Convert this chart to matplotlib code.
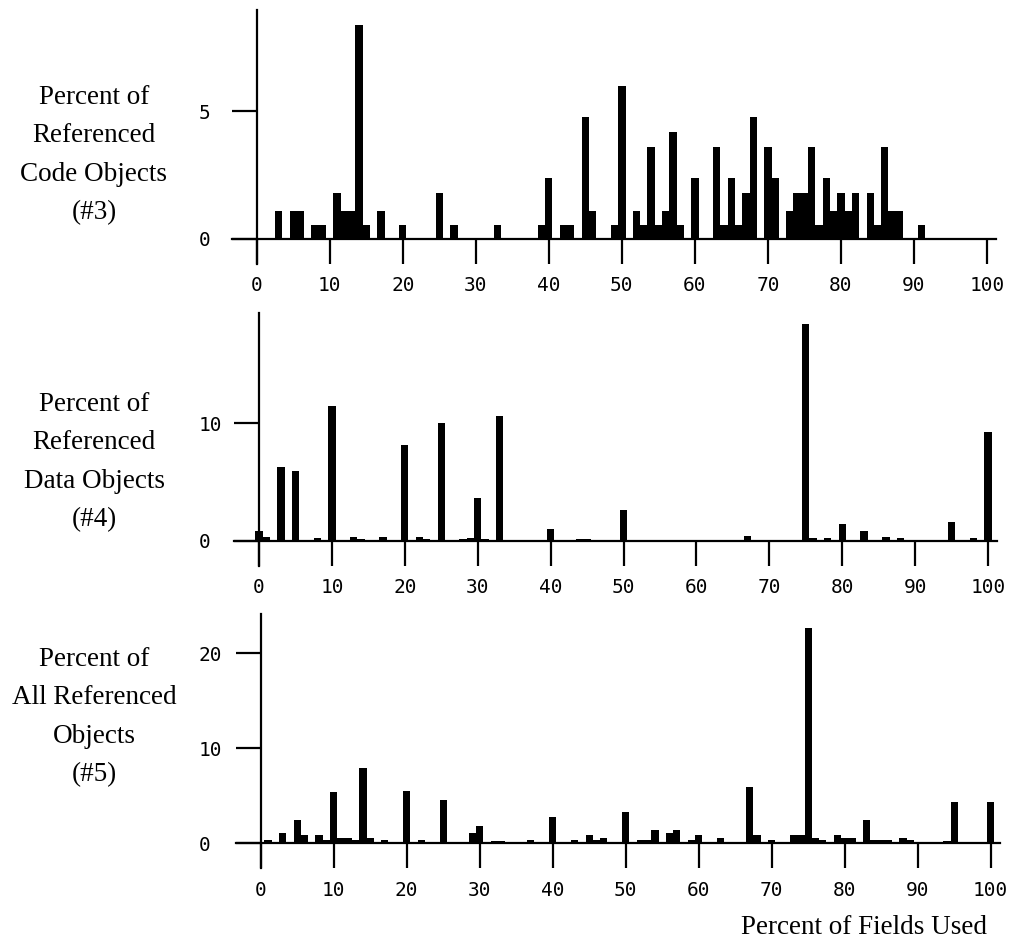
import matplotlib
matplotlib.use('Agg')
import matplotlib.pyplot as plt
import numpy as np

# %% data (percent of fields used -> percent of objects)
code_pos = [3, 5, 6, 8, 9, 11, 12, 13, 14, 15, 17, 20, 25, 27, 33, 39, 40, 42, 43, 45,
            46, 49, 50, 52, 53, 54, 55, 56, 57, 58, 60, 63, 64, 65, 66, 67, 68, 70, 71, 73,
            74, 75, 76, 77, 78, 79, 80, 81, 82, 84, 85, 86, 87, 88, 91]
code_pct = [1.1, 1.1, 1.1, 0.55, 0.55, 1.8, 1.1, 1.1, 8.4, 0.55, 1.1, 0.55, 1.8, 0.55, 0.55, 0.55, 2.4, 0.55, 0.55, 4.8,
            1.1, 0.55, 6.0, 1.1, 0.55, 3.6, 0.55, 1.1, 4.2, 0.55, 2.4, 3.6, 0.55, 2.4, 0.55, 1.8, 4.8, 3.6, 2.4, 1.1,
            1.8, 1.8, 3.6, 0.55, 2.4, 1.1, 1.8, 1.1, 1.8, 1.8, 0.55, 3.6, 1.1, 1.1, 0.55]

data_pos = [0, 1, 3, 5, 8, 10, 13, 14, 17, 19, 20, 22, 23, 25, 28, 29, 30, 31, 33, 40,
            44, 45, 50, 67, 75, 76, 78, 80, 83, 86, 88, 95, 98, 100]
data_pct = [0.8, 0.35, 6.3, 5.9, 0.2, 11.5, 0.3, 0.15, 0.3, 0.1, 8.15, 0.3, 0.15, 10.0, 0.15, 0.25, 3.65, 0.15, 10.6, 1.0,
            0.15, 0.15, 2.6, 0.4, 18.5, 0.2, 0.2, 1.4, 0.85, 0.35, 0.2, 1.6, 0.2, 9.3]

all_pos = [1, 3, 5, 6, 8, 9, 10, 11, 12, 13, 14, 15, 17, 20, 22, 25, 29, 30, 32, 33,
           37, 40, 43, 45, 46, 47, 50, 52, 53, 54, 56, 57, 59, 60, 63, 67, 68, 70, 73, 74,
           75, 76, 77, 79, 80, 81, 83, 84, 85, 86, 88, 89, 94, 95, 97, 98, 100]
all_pct = [0.35, 1.05, 2.5, 0.85, 0.85, 0.3, 5.4, 0.55, 0.55, 0.3, 7.9, 0.55, 0.3, 5.5, 0.3, 4.55, 1.05, 1.8, 0.2, 0.2,
           0.3, 2.8, 0.3, 0.85, 0.35, 0.6, 3.25, 0.3, 0.3, 1.4, 1.05, 1.4, 0.3, 0.85, 0.6, 5.9, 0.85, 0.3, 0.85, 0.85,
           22.7, 0.6, 0.3, 0.85, 0.6, 0.6, 2.5, 0.3, 0.3, 0.3, 0.6, 0.3, 0.2, 4.3, 0.1, 0.1, 4.3]

panel_labels = ['Percent of\nReferenced\nCode Objects\n(#3)',
                'Percent of\nReferenced\nData Objects\n(#4)',
                'Percent of\nAll Referenced\nObjects\n(#5)']
x_ticks = [0, 10, 20, 30, 40, 50, 60, 70, 80, 90, 100]
y_ticks = [[0, 5], [0, 10], [0, 10, 20]]
x_label = 'Percent of Fields Used'

# %% layout in pixels: (x of 0, x of 100, y of 0, px per y unit, top, right end)
W, H = 1029, 944
geom = [
    (256.7, 987.0, 239.0, 25.5, 10.0, 996.0),
    (259.0, 988.0, 540.7, 11.74, 312.7, 997.0),
    (260.7, 990.7, 843.3, 9.5, 614.0, 1000.0),
]
label_y = [155, 462, 717]
tick_len = 25      # px
ytick_left = 199   # px, left edge of y tick labels

fig = plt.figure(figsize=(W / 100, H / 100), dpi=100)

series = [(code_pos, code_pct), (data_pos, data_pct), (all_pos, all_pct)]

for i, (pos, pct) in enumerate(series):
    x0, x100, y0, ppu, top, right = geom[i]
    ppx = (x100 - x0) / 100
    left = x0 - tick_len
    bottom = y0 + tick_len
    ax = fig.add_axes([left / W, 1 - bottom / H, (right - left) / W, (bottom - top) / H])
    ax.bar(pos, pct, width=1.0, color='black', linewidth=0)
    ax.set_xlim((left - x0) / ppx, (right - x0) / ppx)
    ax.set_ylim(-tick_len / ppu, (y0 - top) / ppu)

    for s in ['top', 'right']:
        ax.spines[s].set_visible(False)
    ax.spines['left'].set_position(('data', 0))
    ax.spines['bottom'].set_position(('data', 0))
    for s in ['left', 'bottom']:
        ax.spines[s].set_linewidth(1.6)

    ax.set_xticks(x_ticks)
    ax.set_yticks(y_ticks[i])
    ax.tick_params(axis='x', direction='out', length=tick_len * 0.72, width=1.6, pad=9,
                   labelsize=14)
    ypad = (x0 - tick_len - ytick_left) * 0.72
    ax.tick_params(axis='y', direction='out', length=tick_len * 0.72, width=1.6, pad=ypad,
                   labelsize=14)
    for lab in ax.get_xticklabels() + ax.get_yticklabels():
        lab.set_fontfamily('DejaVu Sans Mono')
    for lab in ax.get_yticklabels():
        lab.set_horizontalalignment('left')
    ax.patch.set_visible(False)

    fig.text(94 / W, 1 - label_y[i] / H, panel_labels[i], ha='center', va='center',
             multialignment='center', fontsize=19.5, family='Liberation Serif',
             linespacing=1.7)

fig.text(864 / W, 1 - 927 / H, x_label, ha='center', va='center', fontsize=19.5,
         family='Liberation Serif')

fig.savefig('out.png', dpi=100)
